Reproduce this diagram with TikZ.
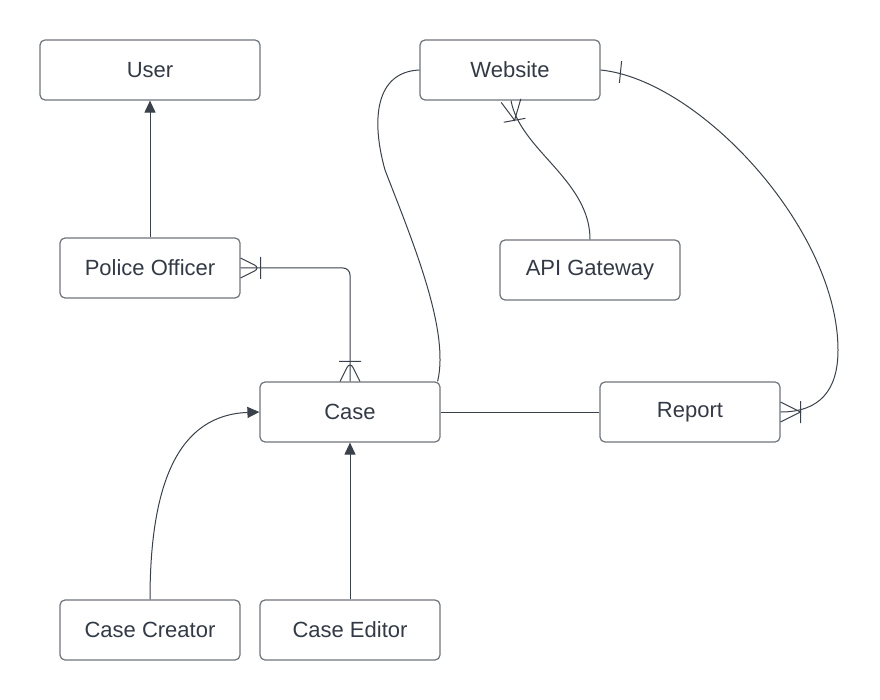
\documentclass[tikz,border=0pt]{standalone}
\usepackage{fontspec}
\setmainfont{Liberation Sans}
\usetikzlibrary{arrows.meta,decorations.markings}
\definecolor{boxgray}{HTML}{6F737A}
\definecolor{linegray}{HTML}{3A414A}
\definecolor{textgray}{HTML}{333A45}

\begin{document}
\begin{tikzpicture}[x=1pt,y=-1pt]
        % Define styles
        \tikzset{
            entity/.style={rectangle, draw=boxgray, line width=1.2pt, rounded corners=5pt, minimum width=180pt, minimum height=60pt, text=textgray, font=\fontsize{22}{26}\selectfont},
            link/.style={draw=linegray, line width=1pt},
            arrow/.style={link, -{Triangle[length=12pt,width=11pt]}},
            manyend/.style={postaction={decorate, decoration={markings, mark=at position 1 with {\draw[link] (0pt,10pt) -- (-20pt,0pt) -- (0pt,-10pt) (-20pt,-11pt) -- (-20pt,11pt);}}}},
            manystart/.style={postaction={decorate, decoration={markings, mark=at position 0 with {\draw[link] (0pt,10pt) -- (20pt,0pt) -- (0pt,-10pt) (20pt,-11pt) -- (20pt,11pt);}}}},
            onestart/.style={postaction={decorate, decoration={markings, mark=at position 0 with {\draw[link] (20pt,-11pt) -- (20pt,11pt);}}}}
        }
        \useasboundingbox (0,0) rectangle (880,700);

        % Nodes
        \node[entity, minimum width=220pt] (user) at (150,70) {User};
        \node[entity] (website) at (510,70) {Website};
        \node[entity] (officer) at (150,268) {Police Officer};
        \node[entity] (gateway) at (590,270) {API Gateway};
        \node[entity] (case) at (350,412) {Case};
        \node[entity] (report) at (690,412) {Report};
        \node[entity] (creator) at (150,630) {Case Creator};
        \node[entity] (editor) at (350,630) {Case Editor};

        % Arrows
        \draw[arrow] (officer) -- (user);
        \draw[arrow] (editor) -- (case);
        \draw[arrow] (creator.north) .. controls (150,480) and (180,415) .. (case.west);

        % Relations
        \draw[link, manystart, manyend, rounded corners=7pt] (officer.east) -| (case.north);
        \draw[link] (case) -- (report);
        \draw[link] ([xshift=-3pt]case.north east) .. controls (450,330) and (412,240) .. (385,170) .. controls (371,120) and (375,72) .. (website.west);
        \draw[link, manyend] (gateway.north) .. controls (590,180) and (520,150) .. ([xshift=1pt]website.south);
        \draw[link, onestart, manyend] (website.east) .. controls (700,80) and (838,230) .. (838,350) .. controls (838,390) and (820,412) .. (report.east);
    \end{tikzpicture}
\end{document}
